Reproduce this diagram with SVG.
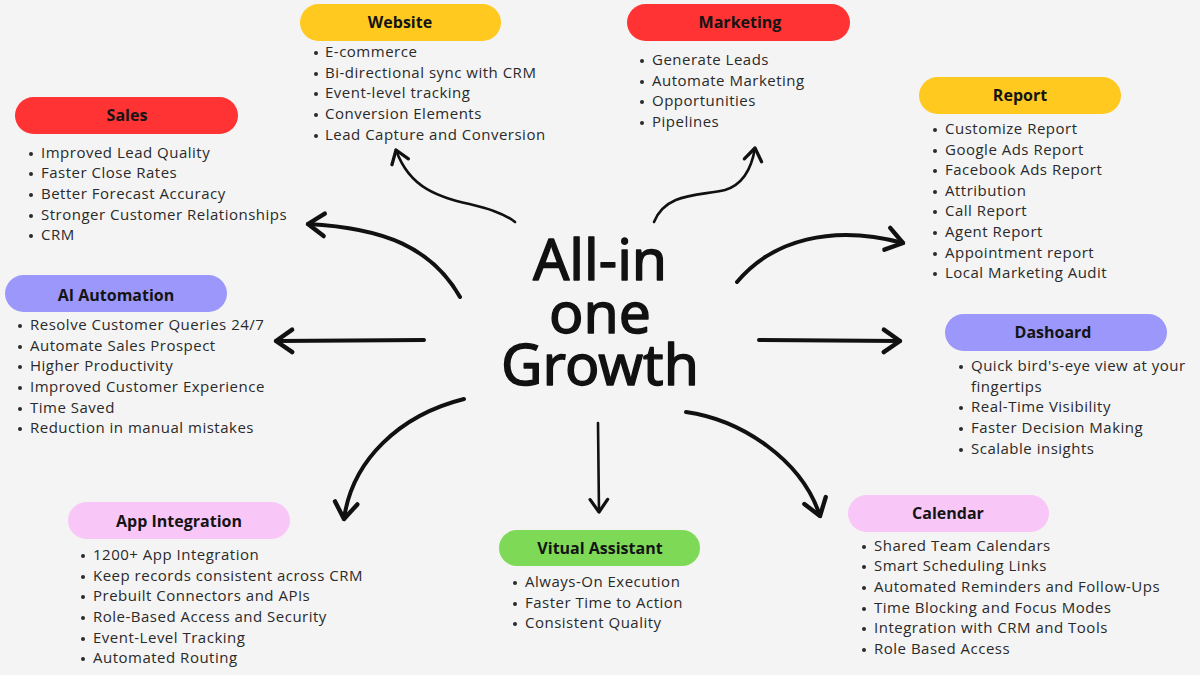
<svg xmlns="http://www.w3.org/2000/svg" width="1200" height="675" viewBox="0 0 1200 675">
<defs>
<style>
.bg{fill:#f4f4f4}
.pill-y{fill:#ffc91f}
.pill-r{fill:#ff3333}
.pill-p{fill:#9c98fb}
.pill-k{fill:#f9c6f8}
.pill-g{fill:#7ed957}
.hd{font-family:"Open Sans","Liberation Sans",sans-serif;font-weight:700;font-size:16px;fill:#141414;text-anchor:middle}
.it{font-family:"Open Sans","Liberation Sans",sans-serif;font-size:15px;letter-spacing:0.5px;fill:#2a2a2a}
.bul{fill:#2a2a2a}
.title{font-family:"Noto Sans","DejaVu Sans",sans-serif;font-weight:400;font-size:57px;fill:#111;stroke:#111;stroke-width:1.4;text-anchor:middle;stroke-linejoin:round;stroke-linecap:round}
.arr{fill:none;stroke:#111;stroke-linecap:round;stroke-linejoin:round}
.thick{stroke-width:4}
.thin{stroke-width:2.6}
</style>
<marker id="ah" markerUnits="userSpaceOnUse" markerWidth="30" markerHeight="30" viewBox="-16 -12 20 24" refX="0" refY="0" orient="auto">
<path d="M-13,-9 L0,0 L-13,9" fill="none" stroke="#111" stroke-width="3.5" stroke-linecap="round" stroke-linejoin="round"/>
</marker>
<marker id="ahs" markerUnits="userSpaceOnUse" markerWidth="30" markerHeight="30" viewBox="-16 -12 20 24" refX="0" refY="0" orient="auto">
<path d="M-10,-7 L0,0 L-10,7" fill="none" stroke="#111" stroke-width="2.6" stroke-linecap="round" stroke-linejoin="round"/>
</marker>
</defs>
<rect class="bg" x="0" y="0" width="1200" height="675"/>

<g id="connectors">
<path class="arr thin" d="M515,222 C480,195 418,212 396,150" marker-end="url(#ahs)"/>
<path class="arr thick" d="M460,297 C432,248 385,228 308,224" marker-end="url(#ah)"/>
<path class="arr thick" d="M424,340 L276,341" marker-end="url(#ah)"/>
<path class="arr thick" d="M464,399 C400,415 352,460 344,519" marker-end="url(#ah)"/>
<path class="arr thin" d="M654,222 C666,192 700,196 725,190 C745,184 752,166 755,148" marker-end="url(#ahs)"/>
<path class="arr thick" d="M737,282 C772,240 832,224 903,243" marker-end="url(#ah)"/>
<path class="arr thick" d="M759,340 L900,341" marker-end="url(#ah)"/>
<path class="arr thick" d="M686,412 C742,420 802,460 820,516" marker-end="url(#ah)"/>
<path class="arr thin" d="M598,423 L599,512" marker-end="url(#ahs)"/>
</g>

<g id="center">
<text class="title"><tspan x="600" y="280">All-in</tspan><tspan x="600" y="333">one</tspan><tspan x="600" y="385">Growth</tspan></text>
</g>

<g id="website">
<rect class="pill-y" x="300" y="4" width="201" height="37" rx="18.5"/>
<text class="hd" x="400" y="28">Website</text>
<g class="bul"><circle cx="316" cy="53" r="2"/><circle cx="316" cy="74" r="2"/><circle cx="316" cy="94" r="2"/><circle cx="316" cy="115" r="2"/><circle cx="316" cy="136" r="2"/></g>
<text class="it" x="325" y="57">E-commerce</text>
<text class="it" x="325" y="78">Bi-directional sync with CRM</text>
<text class="it" x="325" y="98">Event-level tracking</text>
<text class="it" x="325" y="119">Conversion Elements</text>
<text class="it" x="325" y="140">Lead Capture and Conversion</text>
</g>

<g id="marketing">
<rect class="pill-r" x="627" y="4" width="223" height="37" rx="18.5"/>
<text class="hd" x="740" y="28">Marketing</text>
<g class="bul"><circle cx="642" cy="61" r="2"/><circle cx="642" cy="82" r="2"/><circle cx="642" cy="102" r="2"/><circle cx="642" cy="123" r="2"/></g>
<text class="it" x="652" y="65">Generate Leads</text>
<text class="it" x="652" y="86">Automate Marketing</text>
<text class="it" x="652" y="106">Opportunities</text>
<text class="it" x="652" y="127">Pipelines</text>
</g>

<g id="sales">
<rect class="pill-r" x="15" y="97" width="223" height="37" rx="18.5"/>
<text class="hd" x="127" y="121">Sales</text>
<g class="bul"><circle cx="31" cy="154" r="2"/><circle cx="31" cy="174" r="2"/><circle cx="31" cy="195" r="2"/><circle cx="31" cy="216" r="2"/><circle cx="31" cy="236" r="2"/></g>
<text class="it" x="41" y="158">Improved Lead Quality</text>
<text class="it" x="41" y="178">Faster Close Rates</text>
<text class="it" x="41" y="199">Better Forecast Accuracy</text>
<text class="it" x="41" y="220">Stronger Customer Relationships</text>
<text class="it" x="41" y="240">CRM</text>
</g>

<g id="report">
<rect class="pill-y" x="919" y="77" width="202" height="37" rx="18.5"/>
<text class="hd" x="1020" y="101">Report</text>
<g class="bul"><circle cx="935" cy="130" r="2"/><circle cx="935" cy="151" r="2"/><circle cx="935" cy="171" r="2"/><circle cx="935" cy="192" r="2"/><circle cx="935" cy="212" r="2"/><circle cx="935" cy="233" r="2"/><circle cx="935" cy="254" r="2"/><circle cx="935" cy="274" r="2"/></g>
<text class="it" x="945" y="134">Customize Report</text>
<text class="it" x="945" y="155">Google Ads Report</text>
<text class="it" x="945" y="175">Facebook Ads Report</text>
<text class="it" x="945" y="196">Attribution</text>
<text class="it" x="945" y="216">Call Report</text>
<text class="it" x="945" y="237">Agent Report</text>
<text class="it" x="945" y="258">Appointment report</text>
<text class="it" x="945" y="278">Local Marketing Audit</text>
</g>

<g id="ai-automation">
<rect class="pill-p" x="5" y="275" width="222" height="37" rx="18.5"/>
<text class="hd" x="116" y="301">AI Automation</text>
<g class="bul"><circle cx="20" cy="326" r="2"/><circle cx="20" cy="347" r="2"/><circle cx="20" cy="367" r="2"/><circle cx="20" cy="388" r="2"/><circle cx="20" cy="409" r="2"/><circle cx="20" cy="429" r="2"/></g>
<text class="it" x="30" y="330">Resolve Customer Queries 24/7</text>
<text class="it" x="30" y="351">Automate Sales Prospect</text>
<text class="it" x="30" y="371">Higher Productivity</text>
<text class="it" x="30" y="392">Improved Customer Experience</text>
<text class="it" x="30" y="413">Time Saved</text>
<text class="it" x="30" y="433">Reduction in manual mistakes</text>
</g>

<g id="dashoard">
<rect class="pill-p" x="945" y="314" width="222" height="37" rx="18.5"/>
<text class="hd" x="1053" y="338">Dashoard</text>
<g class="bul"><circle cx="961" cy="367" r="2"/><circle cx="961" cy="408" r="2"/><circle cx="961" cy="429" r="2"/><circle cx="961" cy="450" r="2"/></g>
<text class="it" x="971" y="371">Quick bird's-eye view at your</text>
<text class="it" x="971" y="392">fingertips</text>
<text class="it" x="971" y="412">Real-Time Visibility</text>
<text class="it" x="971" y="433">Faster Decision Making</text>
<text class="it" x="971" y="454">Scalable insights</text>
</g>

<g id="app-integration">
<rect class="pill-k" x="68" y="502" width="222" height="37" rx="18.5"/>
<text class="hd" x="179" y="527">App Integration</text>
<g class="bul"><circle cx="83" cy="556" r="2"/><circle cx="83" cy="577" r="2"/><circle cx="83" cy="597" r="2"/><circle cx="83" cy="618" r="2"/><circle cx="83" cy="639" r="2"/><circle cx="83" cy="659" r="2"/></g>
<text class="it" x="93" y="560">1200+ App Integration</text>
<text class="it" x="93" y="581">Keep records consistent across CRM</text>
<text class="it" x="93" y="601">Prebuilt Connectors and APIs</text>
<text class="it" x="93" y="622">Role-Based Access and Security</text>
<text class="it" x="93" y="643">Event-Level Tracking</text>
<text class="it" x="93" y="663">Automated Routing</text>
</g>

<g id="vitual-assistant">
<rect class="pill-g" x="499" y="530" width="201" height="36" rx="18"/>
<text class="hd" x="600" y="554">Vitual Assistant</text>
<g class="bul"><circle cx="515" cy="583" r="2"/><circle cx="515" cy="604" r="2"/><circle cx="515" cy="624" r="2"/></g>
<text class="it" x="525" y="587">Always-On Execution</text>
<text class="it" x="525" y="608">Faster Time to Action</text>
<text class="it" x="525" y="628">Consistent Quality</text>
</g>

<g id="calendar">
<rect class="pill-k" x="848" y="495" width="201" height="37" rx="18.5"/>
<text class="hd" x="948" y="519">Calendar</text>
<g class="bul"><circle cx="864" cy="547" r="2"/><circle cx="864" cy="567" r="2"/><circle cx="864" cy="588" r="2"/><circle cx="864" cy="609" r="2"/><circle cx="864" cy="629" r="2"/><circle cx="864" cy="650" r="2"/></g>
<text class="it" x="874" y="551">Shared Team Calendars</text>
<text class="it" x="874" y="571">Smart Scheduling Links</text>
<text class="it" x="874" y="592">Automated Reminders and Follow-Ups</text>
<text class="it" x="874" y="613">Time Blocking and Focus Modes</text>
<text class="it" x="874" y="633">Integration with CRM and Tools</text>
<text class="it" x="874" y="654">Role Based Access</text>
</g>
</svg>
